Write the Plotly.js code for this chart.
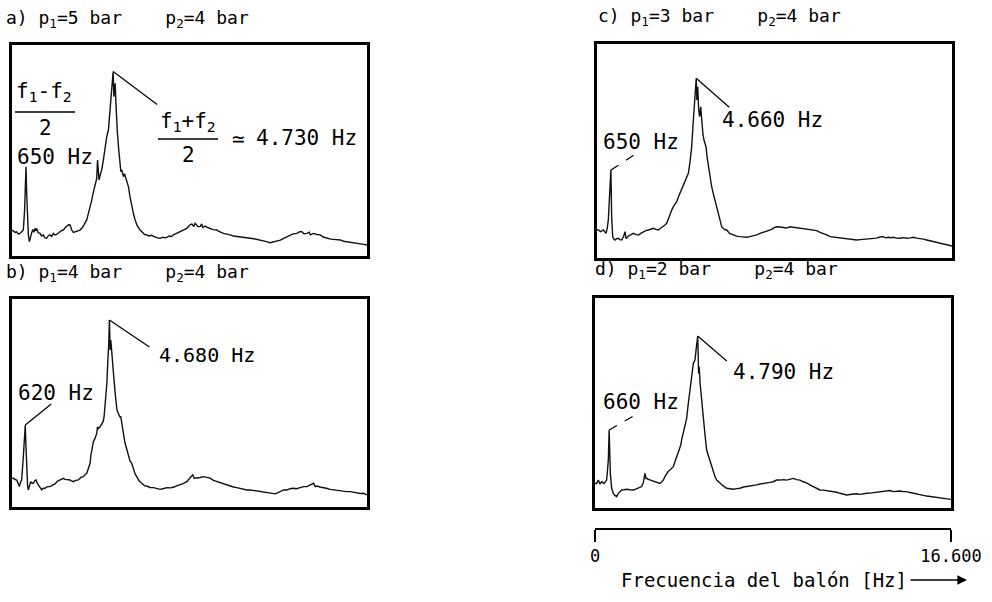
<!DOCTYPE html>
<html>
<head>
<meta charset="utf-8">
<script src="https://cdn.plot.ly/plotly-3.0.1.min.js"></script>
<style>html,body{margin:0;padding:0;background:#fff;}#chart{width:992px;height:602px;}</style>
</head>
<body>
<div id="chart"></div>
<script>
// ---------- DATA (frequency in Hz, relative amplitude in % of panel height) ----------
const spectrumA = [[0,12.3],[60,12],[150,11.2],[220,11.5],[300,10.4],[374,10.7],[450,11.3],[530,12.3],[585,21],[625,36],[655,42.3],[685,30],[718,18.6],[765,10],[811,6.8],[860,9.2],[920,11],[980,12.6],[1030,11.2],[1076,13.1],[1120,12],[1154,13],[1220,11],[1310,10.7],[1380,9.5],[1466,10],[1540,8.6],[1622,8.4],[1700,9.6],[1778,10],[1850,9.2],[1934,10.7],[2010,10],[2090,10.2],[2170,11],[2246,11.5],[2330,12.1],[2402,12.3],[2480,13.4],[2558,13.9],[2640,14.8],[2714,14.7],[2760,13],[2792,12.3],[2870,11.2],[2948,11.5],[3050,12],[3182,12.3],[3300,13.6],[3416,15.5],[3494,17.1],[3572,20.2],[3650,23],[3728,26.5],[3800,30],[3884,32.9],[3962,36.8],[4000,45.5],[4030,38],[4070,36],[4120,38.2],[4196,40.8],[4280,46],[4352,51.8],[4430,56.6],[4508,59.7],[4560,67],[4610,75],[4680,83.4],[4730,87.4],[4765,75.5],[4795,80],[4825,81.8],[4867,70.8],[4900,63],[4930,58.1],[4992,50.2],[5054,42],[5090,40],[5132,40.8],[5170,38.2],[5210,37.6],[5260,39],[5335,36],[5400,34],[5444,32.9],[5520,28],[5600,23.4],[5680,20],[5756,17.1],[5850,14.5],[5990,12.3],[6100,11],[6200,10.2],[6302,10],[6400,9.5],[6500,9.8],[6614,9.2],[6700,9],[6800,8.6],[6926,8.4],[7050,8.9],[7150,8.6],[7238,8.8],[7350,9.5],[7450,9.2],[7550,10],[7650,10.5],[7750,11],[7862,11.5],[7950,12],[8050,12.8],[8174,13.1],[8250,14],[8300,14.6],[8408,15.2],[8500,14],[8560,15.5],[8642,14.7],[8700,13.9],[8798,13.9],[8870,15.2],[8920,13.5],[9032,14.2],[9150,13.5],[9266,13.1],[9400,12.5],[9578,12.3],[9700,11.5],[9890,10.7],[10050,10.5],[10202,10],[10350,9.5],[10514,9.2],[10650,9],[10826,8.8],[10950,8.6],[11138,8.4],[11300,8.2],[11450,7.9],[11600,7.6],[11762,7.3],[11900,6.8],[12074,6.3],[12200,6.6],[12386,6.8],[12550,7.5],[12698,8.4],[12850,9.2],[13010,10],[13150,10.5],[13322,10.7],[13450,11.5],[13556,11.5],[13650,10.5],[13790,10.7],[13900,11.3],[13950,10],[14102,10.7],[14250,10.2],[14414,10],[14550,9],[14726,8.4],[14900,8],[15038,7.9],[15200,7.8],[15350,7.6],[15500,7],[15662,6.8],[15800,6.5],[15974,6.3],[16150,6],[16286,6],[16450,5.5],[16600,5.2]];

const spectrumB = [[0,13.8],[62,13.8],[150,13.2],[218,13],[300,11],[343,9.8],[400,12],[452,13],[530,24.2],[590,34],[620,39.4],[650,30],[686,14.6],[730,10],[764,8.2],[820,10.5],[874,12.2],[940,11.4],[998,11.4],[1060,12.5],[1123,13],[1180,11.5],[1232,10.6],[1300,9.5],[1388,8.2],[1460,9],[1544,9],[1650,9.8],[1778,9.8],[1900,10.5],[2012,11.1],[2130,12.5],[2246,13],[2330,13.5],[2402,13.8],[2480,13.3],[2558,13.3],[2640,13],[2714,13],[2800,12.5],[2870,12.2],[2980,12.8],[3104,13],[3220,14.2],[3338,14.6],[3420,15.5],[3494,16.2],[3570,18.5],[3650,21],[3690,25],[3728,27.4],[3806,31.4],[3880,33],[3962,35.4],[4000,38.5],[4040,37.8],[4118,38.6],[4200,40.2],[4260,41],[4306,43.4],[4350,48],[4399,54.6],[4440,60],[4462,65.9],[4500,72],[4524,78.7],[4555,89.9],[4590,75.5],[4620,80.3],[4660,73.9],[4720,69.1],[4770,61.1],[4840,53],[4910,46.6],[4976,45],[5040,43.4],[5086,43.4],[5150,38],[5210,35.4],[5280,31],[5335,29],[5444,25.8],[5520,22],[5600,21],[5678,18.6],[5750,16],[5834,14.6],[5950,12.5],[6068,11.4],[6200,10.2],[6302,10.1],[6450,9.4],[6614,9.3],[6780,8.8],[6926,8.5],[7100,8.9],[7238,9.3],[7400,9.2],[7550,9.5],[7700,10.2],[7862,10.6],[8000,11.2],[8174,12.2],[8300,13.5],[8408,14.6],[8450,15.5],[8520,13.8],[8642,13.9],[8800,14.2],[8954,14.6],[9100,14.2],[9266,13.9],[9420,12.8],[9578,12.2],[9750,11.8],[9890,11.4],[10050,10.8],[10202,10.1],[10350,9.6],[10514,9.3],[10680,8.9],[10826,8.5],[10980,8.2],[11138,8.2],[11300,7.9],[11450,7.7],[11600,7.6],[11762,7.4],[11900,7],[12074,6.6],[12200,6.5],[12308,6.3],[12420,6.8],[12542,7.4],[12700,8.2],[12854,8.2],[13000,8.8],[13166,9],[13300,8.8],[13478,9.3],[13650,9.8],[13790,9.8],[13950,10.5],[14102,11.4],[14180,9.8],[14258,10.1],[14400,9.6],[14570,9.4],[14700,9],[14882,8.5],[15050,8.2],[15194,8.2],[15350,7.9],[15506,7.7],[15650,7.4],[15818,7.4],[15980,7],[16130,6.9],[16300,6.5],[16442,6.6],[16600,5.8]];

const spectrumC = [[0,13.1],[62,13.1],[171,12.3],[296,13.1],[421,11.5],[480,14],[530,17.8],[577,27.1],[650,41.1],[686,19.3],[733,10],[790,8.8],[842,8.4],[920,9],[998,9.2],[1080,8.6],[1154,8.4],[1240,10],[1310,12.3],[1350,9.5],[1388,9.2],[1460,10.2],[1543,10.7],[1620,11],[1699,11.5],[1800,11],[1933,10.7],[2050,11.5],[2167,12.3],[2280,12.8],[2401,13.1],[2520,13.5],[2635,13.9],[2750,13.4],[2869,13.1],[2990,14],[3102,14.6],[3180,15.4],[3258,16.2],[3340,18.5],[3414,20.9],[3500,22.5],[3570,24],[3650,25],[3726,26.3],[3800,28.4],[3882,30.2],[3960,32],[4038,34.1],[4100,35.5],[4163,36.4],[4220,38],[4272,39.6],[4350,45],[4428,52],[4490,62],[4537,69.2],[4580,78],[4640,84],[4670,73.8],[4710,80],[4755,69.2],[4800,66],[4850,70.7],[4895,63],[4950,58.3],[5004,55],[5098,52],[5150,47],[5207,42.7],[5280,38],[5363,33.3],[5440,30],[5519,27.1],[5600,24],[5675,20.9],[5750,17.5],[5831,14.6],[5950,13.4],[6065,13.1],[6200,11.5],[6376,10.7],[6530,10.2],[6688,10],[6850,9.8],[7000,9.7],[7150,10],[7312,10.3],[7470,10.8],[7624,11.5],[7780,12],[7935,12.3],[8050,13],[8169,13.4],[8280,14.2],[8403,14.6],[8550,14.5],[8715,14.3],[8870,14],[9027,14.6],[9180,14.4],[9339,14.2],[9500,14],[9650,13.9],[9800,13.5],[9962,13.4],[10120,13],[10274,12.8],[10430,12],[10586,11.5],[10740,10.8],[10897,10],[11050,9.8],[11209,9.7],[11360,9.5],[11521,9.2],[11680,9],[11833,8.7],[11990,8.5],[12145,8.4],[12300,8.6],[12456,8.7],[12610,8.8],[12768,9],[12920,9.1],[13080,9.3],[13230,9.8],[13392,10],[13500,9.4],[13626,9.7],[13750,9.5],[13860,9.7],[14000,9.3],[14171,9.2],[14320,9.5],[14483,9.2],[14640,9.4],[14795,9.7],[14950,9.3],[15107,9.2],[15260,8.8],[15419,8.4],[15580,8],[15731,7.6],[15890,7.2],[16042,6.9],[16200,6.5],[16354,6.1],[16600,5.6]];

const spectrumD = [[0,11.7],[78,11.7],[155,13.3],[233,11.4],[311,12.5],[420,11.7],[544,13.3],[622,22.9],[660,37.1],[715,16.5],[777,9.4],[855,7],[930,6],[1010,5.4],[1088,7],[1160,7.8],[1243,8.6],[1360,8.7],[1476,8.9],[1620,8.7],[1787,8.6],[1900,9],[2020,9.4],[2100,9.8],[2176,10.2],[2250,12],[2331,16.5],[2380,14],[2409,14.1],[2490,13.6],[2564,13.3],[2680,12.9],[2797,12.5],[2920,12],[3030,11.7],[3110,12.5],[3186,13.3],[3260,15],[3341,16.5],[3420,17.5],[3497,18.1],[3575,19],[3652,19.7],[3730,22],[3807,24.4],[3870,26],[3932,27.6],[4000,30],[4040,32.4],[4120,36],[4196,40.3],[4274,42.7],[4351,49.8],[4429,57.8],[4507,62.5],[4584,68.9],[4662,70.5],[4720,76],[4790,81.9],[4830,64.1],[4860,67.3],[4895,60],[4940,54.6],[4973,50],[5010,46.7],[5050,42],[5090,38.7],[5128,35],[5206,27.6],[5280,25],[5361,22.9],[5440,19.5],[5517,16.5],[5600,14.8],[5672,13.3],[5750,12.5],[5828,11.7],[5980,10.5],[6138,9.4],[6300,9.1],[6449,8.9],[6600,9.2],[6760,9.4],[6920,10],[7071,10.2],[7230,10.4],[7382,10.5],[7540,11],[7692,11.4],[7850,11.6],[8003,11.7],[8160,12.2],[8314,12.5],[8470,13.3],[8625,13.3],[8780,13.5],[8936,13.3],[9090,13.8],[9246,14.1],[9400,13.5],[9557,13.3],[9710,12.5],[9868,12],[10020,11],[10179,10.2],[10330,9.2],[10490,8.6],[10650,8.5],[10800,8.3],[10960,8],[11111,7.8],[11270,7.5],[11422,7],[11580,6.6],[11733,6.2],[11890,6.4],[12044,6.5],[12200,6.8],[12354,6.5],[12510,6.9],[12665,7],[12820,7.1],[12976,7.3],[13130,7.6],[13287,7.8],[13440,7.9],[13598,8.1],[13750,8.3],[13908,7.8],[14060,8],[14219,8.1],[14370,7.8],[14530,7.8],[14690,7.4],[14841,7],[15000,6.5],[15152,6.2],[15310,6],[15462,5.7],[15620,5.5],[15773,5.4],[15930,5.2],[16084,5.1],[16240,4.9],[16395,4.6],[16600,4.1]];

const panelTitles = [
  "a) p<sub>1</sub>=5 bar\u00a0\u00a0\u00a0\u00a0p<sub>2</sub>=4 bar",
  "b) p<sub>1</sub>=4 bar\u00a0\u00a0\u00a0\u00a0p<sub>2</sub>=4 bar",
  "c) p<sub>1</sub>=3 bar\u00a0\u00a0\u00a0\u00a0p<sub>2</sub>=4 bar",
  "d) p<sub>1</sub>=2 bar\u00a0\u00a0\u00a0\u00a0p<sub>2</sub>=4 bar"
];
const peakLabels = ["4.730 Hz", "4.680\u2009Hz", "4.660 Hz", "4.790 Hz"];
const lowLabels = ["650 Hz", "620 Hz", "650 Hz", "660 Hz"];
const diffLabel = ["f<sub>1</sub>-f<sub>2</sub>", "2"];
const sumLabel = ["f<sub>1</sub>+f<sub>2</sub>", "2", "\u2243"];
const scaleTicks = [0, 16600];
const scaleTickText = ["0", "16.600"];
const scaleTitle = "Frecuencia del balón [Hz]";

// ---------- LAYOUT HELPERS ----------
const W = 992, H = 602;
const X = p => p / W;
const Y = p => 1 - p / H;
const MONO = "DejaVu Sans Mono, monospace";
const spectra = [spectrumA, spectrumB, spectrumC, spectrumD];
const axIds = ["", "2", "3", "4"];

const boxes = [
  {x0: 12, x1: 367, y0: 45, y1: 256},
  {x0: 12, x1: 367, y0: 299, y1: 507},
  {x0: 597, x1: 952, y0: 44, y1: 258},
  {x0: 595, x1: 951, y0: 298, y1: 508}
];

const traces = spectra.map((s, i) => ({
  x: s.map(p => p[0]),
  y: s.map(p => p[1]),
  xaxis: "x" + axIds[i], yaxis: "y" + axIds[i],
  type: "scatter", mode: "lines",
  line: {color: "#111", width: 1.4},
  hoverinfo: "skip", showlegend: false
}));

const layout = {
  width: W, height: H,
  margin: {l: 0, r: 0, t: 0, b: 0},
  paper_bgcolor: "#fff", plot_bgcolor: "#fff",
  showlegend: false,
  annotations: [], shapes: []
};

const frameAxis = {
  showline: true, mirror: true, linecolor: "#000", linewidth: 3,
  showgrid: false, zeroline: false, ticks: "", showticklabels: false, fixedrange: true
};

boxes.forEach((b, i) => {
  const id = axIds[i];
  layout["xaxis" + id] = Object.assign({}, frameAxis, {
    domain: [X(b.x0), X(b.x1)], anchor: "y" + id, range: [0, 16600]
  });
  layout["yaxis" + id] = Object.assign({}, frameAxis, {
    domain: [Y(b.y1), Y(b.y0)], anchor: "x" + id, range: [0, 100]
  });
});

// scale bar axis
layout.xaxis5 = {
  domain: [X(595), X(951)], anchor: "y5", range: [0, 16600],
  showline: true, linecolor: "#000", linewidth: 2,
  ticks: "outside", ticklen: 12, tickwidth: 2, tickcolor: "#000",
  tickvals: scaleTicks, ticktext: scaleTickText,
  tickfont: {family: MONO, size: 17, color: "#000"},
  showgrid: false, zeroline: false, fixedrange: true
};
layout.yaxis5 = {domain: [Y(528), Y(520)], anchor: "x5", visible: false, range: [0, 1]};
traces.push({x: [0, 16600], y: [null, null], xaxis: "x5", yaxis: "y5", type: "scatter", mode: "lines", hoverinfo: "skip", showlegend: false});

function txt(text, px, py, size, xanchor) {
  layout.annotations.push({
    text: text, xref: "paper", yref: "paper", x: X(px), y: Y(py),
    xanchor: xanchor || "left", yanchor: "middle", showarrow: false,
    font: {family: MONO, size: size, color: "#000"}
  });
}
function bar(px0, px1, py) {
  layout.shapes.push({type: "line", xref: "paper", yref: "paper",
    x0: X(px0), x1: X(px1), y0: Y(py), y1: Y(py), line: {color: "#000", width: 1.5}});
}
function peakOf(s, lo, hi) {
  let best = null;
  s.forEach(p => { if (p[0] >= lo && p[0] <= hi && (!best || p[1] > best[1])) best = p; });
  return best;
}
function leader(i, pk, dx, dy, dash) {
  layout.shapes.push({type: "line", xref: "x" + axIds[i], yref: "y" + axIds[i],
    xsizemode: "pixel", ysizemode: "pixel", xanchor: pk[0], yanchor: pk[1],
    x0: 0, y0: 0, x1: dx, y1: dy, line: {color: "#000", width: 1.2, dash: dash || "solid"}});
}

// titles
txt(panelTitles[0], 4, 19, 18);
txt(panelTitles[1], 4, 273, 18);
txt(panelTitles[2], 596, 17, 18);
txt(panelTitles[3], 593, 270, 18);

// panel a labels
txt(diffLabel[0], 14, 92, 21);
bar(15, 75, 112);
txt(diffLabel[1], 45, 128, 21, "center");
txt(lowLabels[0], 15, 157, 21);
txt(sumLabel[0], 158, 122, 21);
bar(158, 218, 139);
txt(sumLabel[1], 188, 155, 21, "center");
txt(sumLabel[2], 238, 139, 21, "center");
txt(peakLabels[0], 254, 138, 21);
// panel b labels
txt(peakLabels[1], 157, 355, 20);
txt(lowLabels[1], 16, 393, 21);
// panel c labels
txt(peakLabels[2], 720, 120, 21);
txt(lowLabels[2], 601, 142, 21);
// panel d labels
txt(peakLabels[3], 731, 372, 21);
txt(lowLabels[3], 601, 402, 21);

// leader lines from peaks
const hiOff = [[44, -33], [40, -27], [33, -29], [29, -25]];
spectra.forEach((s, i) => leader(i, peakOf(s, 3000, 7000), hiOff[i][0], hiOff[i][1]));
leader(1, peakOf(spectrumB, 0, 1500), 26, 21);
leader(2, peakOf(spectrumC, 0, 1500), 23, 15, "dash");
leader(3, peakOf(spectrumD, 0, 1500), 26, 15, "dash");

// scale title + arrow
txt(scaleTitle, 619, 580, 19);
layout.annotations.push({
  text: "", xref: "paper", yref: "paper", x: X(967), y: Y(580),
  showarrow: true, ax: -58, ay: 0, arrowhead: 2, arrowsize: 1.2, arrowwidth: 1.6, arrowcolor: "#000"
});

Plotly.newPlot("chart", traces, layout, {staticPlot: true, displayModeBar: false});
</script>
</body>
</html>
